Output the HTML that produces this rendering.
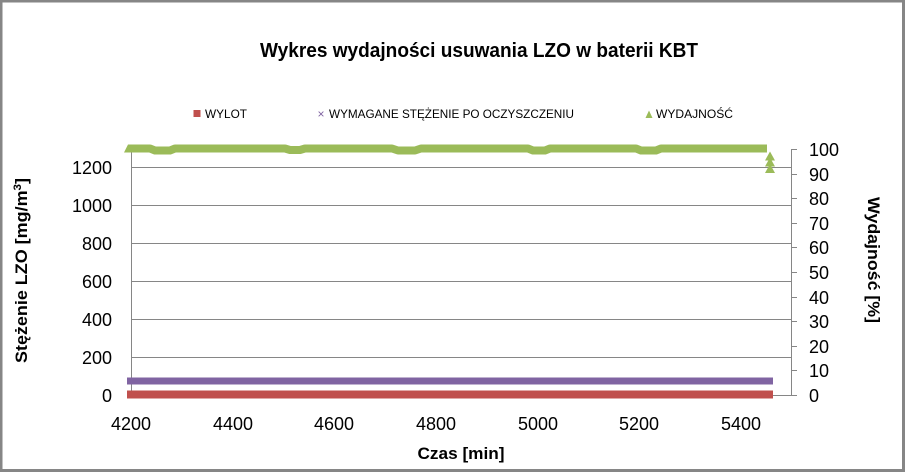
<!DOCTYPE html>
<html><head><meta charset="utf-8"><style>
html,body{margin:0;padding:0;background:#fff;}
svg{display:block;}
text{font-family:"Liberation Sans",sans-serif;fill:#000;}
</style></head><body>
<svg width="905" height="472" viewBox="0 0 905 472" xmlns="http://www.w3.org/2000/svg">
<rect x="0" y="0" width="905" height="472" fill="#fff"/>
<!-- chart border -->
<rect x="1" y="1" width="902.5" height="469.5" fill="none" stroke="#868686" stroke-width="3"/>

<!-- title -->
<text x="479" y="57" font-size="20" font-weight="bold" text-anchor="middle" textLength="438" lengthAdjust="spacingAndGlyphs">Wykres wydajności usuwania LZO w baterii KBT</text>

<!-- legend -->
<rect x="193.5" y="110" width="7" height="7" fill="#C0504D"/>
<text x="205" y="118" font-size="12" textLength="42" lengthAdjust="spacingAndGlyphs">WYLOT</text>
<text x="321" y="118" font-size="12" fill="#8064A2" text-anchor="middle" style="fill:#8064A2">×</text>
<text x="329" y="118" font-size="12" textLength="245" lengthAdjust="spacingAndGlyphs">WYMAGANE STĘŻENIE PO OCZYSZCZENIU</text>
<polygon points="645.5,118 652.5,118 649,110.5" fill="#9BBB59"/>
<text x="656" y="118" font-size="12" textLength="77" lengthAdjust="spacingAndGlyphs">WYDAJNOŚĆ</text>

<!-- gridlines -->
<g stroke="#868686" stroke-width="1">
<line x1="131" y1="357.5" x2="791" y2="357.5"/>
<line x1="131" y1="319.5" x2="791" y2="319.5"/>
<line x1="131" y1="281.5" x2="791" y2="281.5"/>
<line x1="131" y1="243.5" x2="791" y2="243.5"/>
<line x1="131" y1="205.5" x2="791" y2="205.5"/>
<line x1="131" y1="167.5" x2="791" y2="167.5"/>
</g>
<!-- axes -->
<g stroke="#868686" stroke-width="1">
<line x1="131.5" y1="149" x2="131.5" y2="395.5"/>
<line x1="131" y1="395.5" x2="797" y2="395.5"/>
<line x1="791.5" y1="149" x2="791.5" y2="395.5"/>
<line x1="791" y1="149.5" x2="797" y2="149.5"/>
<line x1="791" y1="174.5" x2="797" y2="174.5"/>
<line x1="791" y1="198.5" x2="797" y2="198.5"/>
<line x1="791" y1="223.5" x2="797" y2="223.5"/>
<line x1="791" y1="247.5" x2="797" y2="247.5"/>
<line x1="791" y1="272.5" x2="797" y2="272.5"/>
<line x1="791" y1="297.5" x2="797" y2="297.5"/>
<line x1="791" y1="321.5" x2="797" y2="321.5"/>
<line x1="791" y1="346.5" x2="797" y2="346.5"/>
<line x1="791" y1="370.5" x2="797" y2="370.5"/>
</g>

<!-- left tick labels -->
<g font-size="18" text-anchor="end">
<text x="112" y="402">0</text>
<text x="112" y="364">200</text>
<text x="112" y="326">400</text>
<text x="112" y="288">600</text>
<text x="112" y="250">800</text>
<text x="112" y="212">1000</text>
<text x="112" y="174">1200</text>
</g>
<!-- right tick labels -->
<g font-size="18">
<text x="809" y="402">0</text>
<text x="809" y="377">10</text>
<text x="809" y="353">20</text>
<text x="809" y="328">30</text>
<text x="809" y="304">40</text>
<text x="809" y="279">50</text>
<text x="809" y="254">60</text>
<text x="809" y="230">70</text>
<text x="809" y="205">80</text>
<text x="809" y="181">90</text>
<text x="809" y="156">100</text>
</g>
<!-- x tick labels -->
<g font-size="18" text-anchor="middle">
<text x="131" y="430">4200</text>
<text x="233" y="430">4400</text>
<text x="334" y="430">4600</text>
<text x="436" y="430">4800</text>
<text x="538" y="430">5000</text>
<text x="639" y="430">5200</text>
<text x="741" y="430">5400</text>
</g>

<!-- axis titles -->
<text x="461" y="459" font-size="17" font-weight="bold" text-anchor="middle" textLength="87" lengthAdjust="spacingAndGlyphs">Czas [min]</text>
<text transform="translate(27,270.5) rotate(-90)" font-size="17" font-weight="bold" text-anchor="middle" textLength="185" lengthAdjust="spacingAndGlyphs">Stężenie LZO [mg/m<tspan font-size="11" dy="-6">3</tspan><tspan dy="6">]</tspan></text>
<text transform="translate(868,260) rotate(90)" font-size="17" font-weight="bold" text-anchor="middle" textLength="126" lengthAdjust="spacingAndGlyphs">Wydajność [%]</text>

<!-- series -->
<line x1="127" y1="394.5" x2="773" y2="394.5" stroke="#C0504D" stroke-width="8"/>
<line x1="127" y1="381" x2="773" y2="381" stroke="#8064A2" stroke-width="7"/>
<polyline fill="none" stroke="#9BBB59" stroke-width="8" stroke-linejoin="round"
 points="128,148.5 150,148.5 155,150.5 170,150.5 175,148.5 285,148.5 290,150 300,150 305,148.5 392,148.5 398,150.5 415,150.5 421,148.5 528,148.5 533,150.5 545,150.5 550,148.5 636,148.5 641,150.5 656,150.5 661,148.5 767,148.5"/>
<polygon points="124,152.5 132,152.5 128,144.5" fill="#9BBB59"/>
<polygon points="765,160.5 775,160.5 770,151.5" fill="#9BBB59"/>
<polygon points="765,166.5 775,166.5 770,157.5" fill="#9BBB59"/>
<polygon points="765,173 775,173 770,164" fill="#9BBB59"/>
</svg>
</body></html>
